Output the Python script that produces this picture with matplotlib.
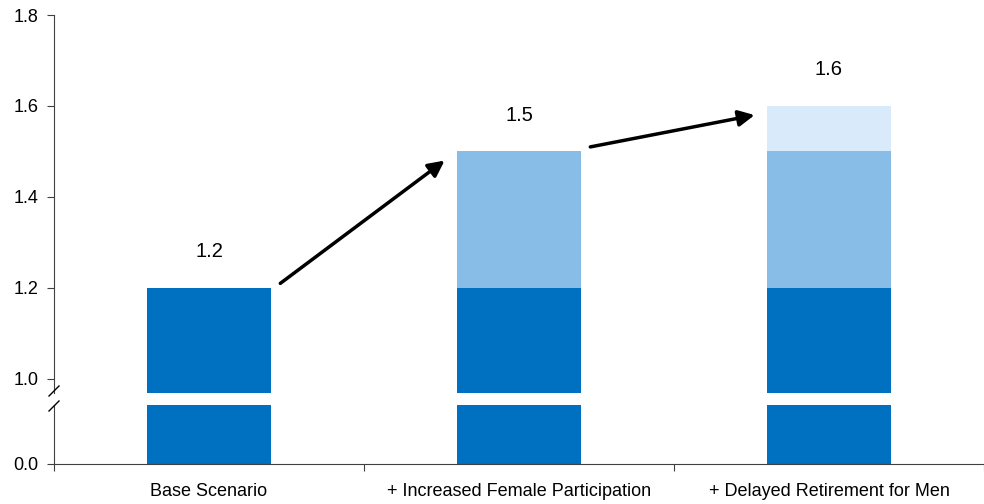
import numpy as np
import matplotlib
matplotlib.use("Agg")
import matplotlib.pyplot as plt

plt.rcParams['font.family'] = ['Liberation Sans', 'DejaVu Sans']

# data
categories = ["Base Scenario", "+ Increased Female Participation", "+ Delayed Retirement for Men"]
base = [1.2, 1.2, 1.2]
female = [0.0, 0.3, 0.3]
men = [0.0, 0.0, 0.1]
totals = [1.2, 1.5, 1.6]
top_ticks = [1.0, 1.2, 1.4, 1.6, 1.8]

c_base = "#0070C0"
c_female = "#87BDE6"
c_men = "#D9EBFA"
axis_col = "#404040"

fig = plt.figure(figsize=(9.84, 5.04), dpi=100)
ax_top = fig.add_axes([54/984, (504-393)/504, 930/984, (393-15)/504])
ax_bot = fig.add_axes([54/984, (504-464)/504, 930/984, (464-405)/504])

x = np.arange(len(categories))
w = 0.403
for ax in (ax_top, ax_bot):
    ax.bar(x, base, w, color=c_base)
    ax.bar(x, female, w, bottom=base, color=c_female)
    ax.bar(x, men, w, bottom=np.add(base, female), color=c_men)
    ax.set_xlim(-0.5, 2.5)
    for s in ("top", "right"):
        ax.spines[s].set_visible(False)
    ax.spines["left"].set_color(axis_col)
    ax.spines["bottom"].set_color(axis_col)
    ax.tick_params(axis="y", direction="out", length=5, color=axis_col,
                   labelsize=13, pad=6)

ax_top.set_ylim(0.969, 1.8)
ax_top.set_yticks(top_ticks)
ax_top.set_yticklabels([f"{t:.1f}" for t in top_ticks])
ax_top.spines["bottom"].set_visible(False)
ax_top.set_xticks([])

ax_bot.set_ylim(0, 0.13)
ax_bot.set_yticks([0.0])
ax_bot.set_yticklabels(["0.0"])
ax_bot.set_xticks([-0.5, 0.5, 1.5, 2.5])
ax_bot.set_xticklabels([])
ax_bot.tick_params(axis="x", which="major", direction="out", length=5, color=axis_col)
ax_bot.set_xticks(x, minor=True)
ax_bot.set_xticklabels(categories, minor=True)
ax_bot.tick_params(axis="x", which="minor", length=0, labelsize=13, pad=14)

# value labels
for i, t in enumerate(totals):
    ax_top.text(i, t + 0.08, f"{t:.1f}", ha="center", va="center", fontsize=14.5)

# arrows between bars
for i in range(len(totals) - 1):
    ax_top.annotate("", xy=(i + 1 - 0.24, totals[i + 1] - 0.02),
                    xytext=(i + 0.23, totals[i] + 0.01),
                    arrowprops=dict(arrowstyle="-|>", color="black", lw=2.5,
                                    mutation_scale=24, shrinkA=0, shrinkB=0))

# break marks on the y axis
kw = dict(color="black", lw=1, clip_on=False)
fig.add_artist(plt.Line2D([49/984, 59/984], [(504-396)/504, (504-386)/504], **kw))
fig.add_artist(plt.Line2D([49/984, 59/984], [(504-411)/504, (504-401)/504], **kw))

fig.savefig("out.png", dpi=100)
